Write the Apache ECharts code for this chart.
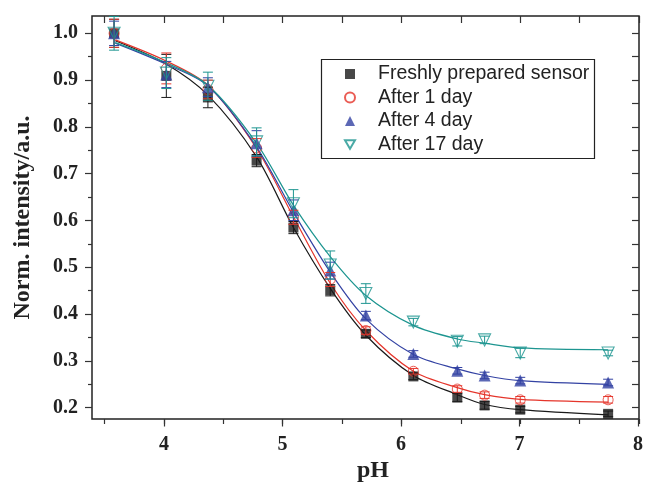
<!DOCTYPE html>
<html>
<head>
<meta charset="utf-8">
<script src="https://cdn.jsdelivr.net/npm/echarts@6/dist/echarts.min.js"></script>
<style>
  html, body { margin: 0; padding: 0; background: #fff; }
  #chart { width: 646px; height: 490px; }
</style>
</head>
<body>
<div id="chart"></div>
<script>
  // measured points
  var pH = [3.58, 4.02, 4.37, 4.78, 5.09, 5.40, 5.70, 6.10, 6.47, 6.70, 7.00, 7.74];
  var fresh = [1.0, 0.909, 0.863, 0.728, 0.585, 0.451, 0.358, 0.267, 0.222, 0.205, 0.196, 0.187];
  var day1 = [1.0, 0.925, 0.880, 0.755, 0.607, 0.474, 0.365, 0.278, 0.240, 0.227, 0.217, 0.217];
  var day4 = [1.0, 0.912, 0.885, 0.765, 0.622, 0.493, 0.397, 0.315, 0.279, 0.269, 0.258, 0.254];
  var day17 = [1.0, 0.915, 0.887, 0.768, 0.636, 0.505, 0.444, 0.383, 0.342, 0.345, 0.317, 0.317];

  // error bars (+/-)
  var freshErr = [0.03, 0.046, 0.022, 0.013, 0.013, 0.012, 0.008, 0.007, 0.009, 0.008, 0.007, 0.006];
  var day1Err = [0.03, 0.033, 0.02, 0.02, 0.015, 0.015, 0.008, 0.006, 0.007, 0.007, 0.007, 0.007];
  var day4Err = [0.026, 0.028, 0.02, 0.027, 0.022, 0.018, 0.009, 0.007, 0.007, 0.007, 0.007, 0.007];
  var day17Err = [0.036, 0.033, 0.03, 0.03, 0.03, 0.03, 0.021, 0.008, 0.01, 0.008, 0.01, 0.006];

  // fitted curves
  var fitPH = [3.59, 4.0, 4.37, 4.78, 5.09, 5.4, 5.7, 6.1, 6.47, 6.7, 7.0, 7.74];
  var fitFresh = [0.984, 0.937, 0.868, 0.736, 0.585, 0.455, 0.355, 0.269, 0.228, 0.207, 0.196, 0.185];
  var fitDay1 = [0.986, 0.943, 0.889, 0.754, 0.608, 0.466, 0.365, 0.278, 0.243, 0.228, 0.218, 0.212];
  var fitDay4 = [0.979, 0.936, 0.888, 0.757, 0.618, 0.490, 0.390, 0.314, 0.283, 0.269, 0.258, 0.250];
  var fitDay17 = [0.980, 0.939, 0.889, 0.765, 0.633, 0.523, 0.440, 0.376, 0.347, 0.338, 0.328, 0.324];

  var names = ['Freshly prepared sensor', 'After 1 day', 'After 4 day', 'After 17 day'];
  var colors = ['#1a1a1a', '#e5352b', '#3342a3', '#1d9590'];

  var labelFont = { fontFamily: 'Liberation Serif', fontWeight: 'bold', fontSize: 20, color: '#222' };

  function zip(xs, ys) {
    return xs.map(function (x, i) { return [x, ys[i]]; });
  }

  function fitLine(ys, color) {
    return {
      type: 'line', data: zip(fitPH, ys), smooth: 0.3,
      showSymbol: false, silent: true, z: 2,
      lineStyle: { color: color, width: 1.2 }
    };
  }

  function errorBars(ys, errs, color) {
    return {
      type: 'custom', silent: true, z: 4,
      data: pH.map(function (x, i) { return [x, ys[i], errs[i]]; }),
      renderItem: function (params, api) {
        var x = api.value(0), y = api.value(1), e = api.value(2);
        var lo = api.coord([x, y - e]);
        var hi = api.coord([x, y + e]);
        var st = { stroke: color, lineWidth: 1 };
        return {
          type: 'group',
          children: [
            { type: 'line', shape: { x1: lo[0], y1: lo[1], x2: hi[0], y2: hi[1] }, style: st },
            { type: 'line', shape: { x1: lo[0] - 5, y1: lo[1], x2: lo[0] + 5, y2: lo[1] }, style: st },
            { type: 'line', shape: { x1: hi[0] - 5, y1: hi[1], x2: hi[0] + 5, y2: hi[1] }, style: st }
          ]
        };
      }
    };
  }

  function hiddenAxis(grid) {
    return { gridIndex: grid, type: 'value', min: 0, max: 1, show: false };
  }

  var chart = echarts.init(document.getElementById('chart'));
  var option = {
    animation: false,
    grid: [
      { left: 92, right: 7, top: 16, bottom: 71, show: true, borderColor: '#222', borderWidth: 1.5 },
      { left: 104.6, right: 7, top: 16, bottom: 71 },
      { left: 164, right: 7, top: 16, bottom: 71 },
      { left: 92, right: 7, top: 33.3, bottom: 82.3 }
    ],
    xAxis: [
      {
        gridIndex: 0, type: 'value', min: 3.394, max: 8,
        axisLine: { show: false }, axisTick: { show: false }, axisLabel: { show: false },
        splitLine: { show: false },
        name: 'pH', nameLocation: 'middle', nameGap: 40,
        nameTextStyle: { fontFamily: 'Liberation Serif', fontWeight: 'bold', fontSize: 24, color: '#222', padding: [0, 0, 0, 15] }
      },
      {
        gridIndex: 1, type: 'value', min: 3.5, max: 8, interval: 0.5, position: 'bottom',
        axisLine: { show: false }, axisLabel: { show: false }, splitLine: { show: false },
        axisTick: { length: 5, lineStyle: { color: '#333', width: 1.2 } }
      },
      {
        gridIndex: 1, type: 'value', min: 3.5, max: 8, interval: 0.5, position: 'top',
        axisLine: { show: false }, axisLabel: { show: false }, splitLine: { show: false },
        axisTick: { inside: true, length: 7, lineStyle: { color: '#333', width: 1.2 } }
      },
      {
        gridIndex: 2, type: 'value', min: 4, max: 8, interval: 1, position: 'bottom',
        axisLine: { show: false }, splitLine: { show: false },
        axisTick: { length: 7.5, lineStyle: { color: '#333', width: 1.2 } },
        axisLabel: Object.assign({ margin: 16 }, labelFont)
      },
      hiddenAxis(3)
    ],
    yAxis: [
      {
        gridIndex: 0, type: 'value', min: 0.176, max: 1.037,
        axisLine: { show: false }, axisTick: { show: false }, axisLabel: { show: false },
        splitLine: { show: false },
        name: 'Norm. intensity/a.u.', nameLocation: 'middle', nameGap: 57,
        nameTextStyle: { fontFamily: 'Liberation Serif', fontWeight: 'bold', fontSize: 24, color: '#222' }
      },
      hiddenAxis(1),
      hiddenAxis(2),
      {
        gridIndex: 3, type: 'value', min: 0.2, max: 1.0, interval: 0.1, position: 'left',
        axisLine: { show: false }, splitLine: { show: false },
        axisTick: { length: 7, lineStyle: { color: '#333', width: 1.2 } },
        minorTick: { show: true, splitNumber: 2, length: 4, lineStyle: { color: '#333', width: 1.2 } },
        axisLabel: Object.assign({ margin: 14, formatter: function (v) { return v.toFixed(1); } }, labelFont)
      },
      {
        gridIndex: 3, type: 'value', min: 0.2, max: 1.0, interval: 0.1, position: 'right',
        axisLine: { show: false }, splitLine: { show: false }, axisLabel: { show: false },
        axisTick: { inside: true, length: 7, lineStyle: { color: '#333', width: 1.2 } },
        minorTick: { show: true, splitNumber: 2, length: 7, lineStyle: { color: '#333', width: 1.2 } }
      }
    ],
    legend: {
      data: [
        { name: names[0] },
        { name: names[1] },
        { name: names[2] },
        { name: names[3], icon: 'path://M0,0L12,0L6,10.4Z' }
      ],
      orient: 'vertical', left: 344, top: 64, padding: 0,
      itemWidth: 10, itemHeight: 10, itemGap: 3.5, selectedMode: false,
      textStyle: { fontFamily: 'Liberation Sans', fontSize: 19.5, color: '#222', lineHeight: 20, padding: [0, 0, 0, 18] }
    },
    graphic: [
      { type: 'rect', shape: { x: 321.5, y: 59.5, width: 273, height: 99 }, style: { fill: 'none', stroke: '#222', lineWidth: 1.2 }, z: 10 }
    ],
    series: [
      fitLine(fitFresh, colors[0]),
      fitLine(fitDay1, colors[1]),
      fitLine(fitDay4, colors[2]),
      fitLine(fitDay17, colors[3]),
      {
        name: names[0], type: 'scatter', data: zip(pH, fresh), symbol: 'rect', symbolSize: 10, z: 3,
        itemStyle: { color: colors[0] }
      },
      {
        name: names[1], type: 'scatter', data: zip(pH, day1), symbol: 'circle', symbolSize: 10, z: 3,
        itemStyle: { color: 'rgba(255,255,255,0)', borderColor: colors[1], borderWidth: 1 }
      },
      {
        name: names[2], type: 'scatter', data: zip(pH, day4), symbol: 'triangle', symbolSize: 12, z: 3,
        itemStyle: { color: colors[2] }
      },
      {
        name: names[3], type: 'scatter', data: zip(pH, day17), symbol: 'triangle', symbolRotate: 180, symbolSize: 12, z: 3,
        itemStyle: { color: 'rgba(255,255,255,0)', borderColor: colors[3], borderWidth: 1.1 }
      },
      errorBars(fresh, freshErr, colors[0]),
      errorBars(day1, day1Err, colors[1]),
      errorBars(day4, day4Err, colors[2]),
      errorBars(day17, day17Err, colors[3])
    ]
  };
  chart.setOption(option);
</script>
</body>
</html>
